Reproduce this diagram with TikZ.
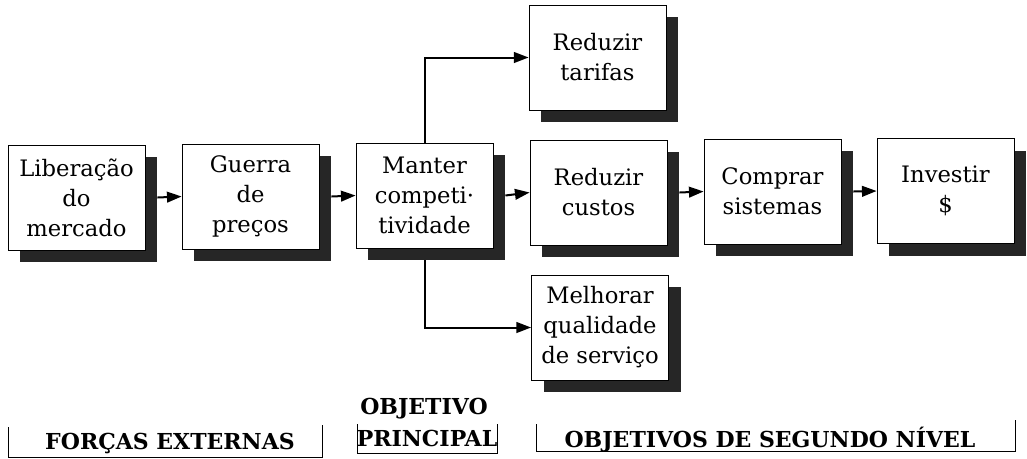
\documentclass[tikz,border=0pt]{standalone}
\usepackage{fontspec}
\setmainfont{DejaVu Serif}
\usetikzlibrary{arrows.meta,shadows}
\begin{document}
\begin{tikzpicture}[x=0.75pt,y=-0.75pt,
  stepbox/.style={draw=black,line width=0.6pt,fill=white,minimum width=102.75pt,minimum height=78.75pt,
    align=center,inner sep=0pt,font=\fontsize{17}{22.5}\selectfont,
    drop shadow={shadow xshift=9pt,shadow yshift=-9pt,fill=black!85,opacity=1}},
  arr/.style={line width=1.5pt,-{Triangle[length=11pt,width=8pt]}},
  lbl/.style={font=\fontsize{16.5}{18}\selectfont\bfseries,inner sep=0pt},
  brk/.style={line width=0.7pt}]
\useasboundingbox (0,0) rectangle (1027,458);
\node[stepbox] (lib) at (76.5,197.5) {Liberação\\do\\mercado};
\node[stepbox] (guerra) at (250.5,196.5) {Guerra\\de\\preços};
\node[stepbox] (manter) at (424.5,195.5) {Manter\\competi·\\tividade};
\node[stepbox] (tarifas) at (597.5,57.5) {Reduzir\\tarifas};
\node[stepbox] (custos) at (598.5,192.5) {Reduzir\\custos};
\node[stepbox] (comprar) at (772.5,191.5) {Comprar\\sistemas};
\node[stepbox] (investir) at (945.5,191) {Investir\\\$};
\node[stepbox] (melhorar) at (600,327.5) {Melhorar\\qualidade\\de serviço};
\draw[arr] ([xshift=9pt]lib.east) -- (guerra.west);
\draw[arr] ([xshift=9pt]guerra.east) -- (manter.west);
\draw[arr] ([xshift=9pt]manter.east) -- (custos.west);
\draw[arr] ([xshift=9pt]custos.east) -- (comprar.west);
\draw[arr] ([xshift=9pt]comprar.east) -- (investir.west);
\draw[arr] (manter.north) |- (tarifas.west);
\draw[arr] ([yshift=-9pt]manter.south) |- (melhorar.west);
\node[lbl] (forcas) at (170,443) {FORÇAS EXTERNAS};
\node[lbl] (objetivo) at (424,409) {OBJETIVO};
\node[lbl] (principal) at (427,438) {PRINCIPAL};
\node[lbl] (segundo) at (770,440) {OBJETIVOS DE SEGUNDO NÍVEL};
\draw[brk] (8,427) -- (8,457) -- (322,457) -- (322,425);
\draw[brk] (357,424) -- (357,453) -- (497,453) -- (497,424);
\draw[brk] (536,424) -- (536,451) -- (1015,451) -- (1015,420);
\end{tikzpicture}
\end{document}
